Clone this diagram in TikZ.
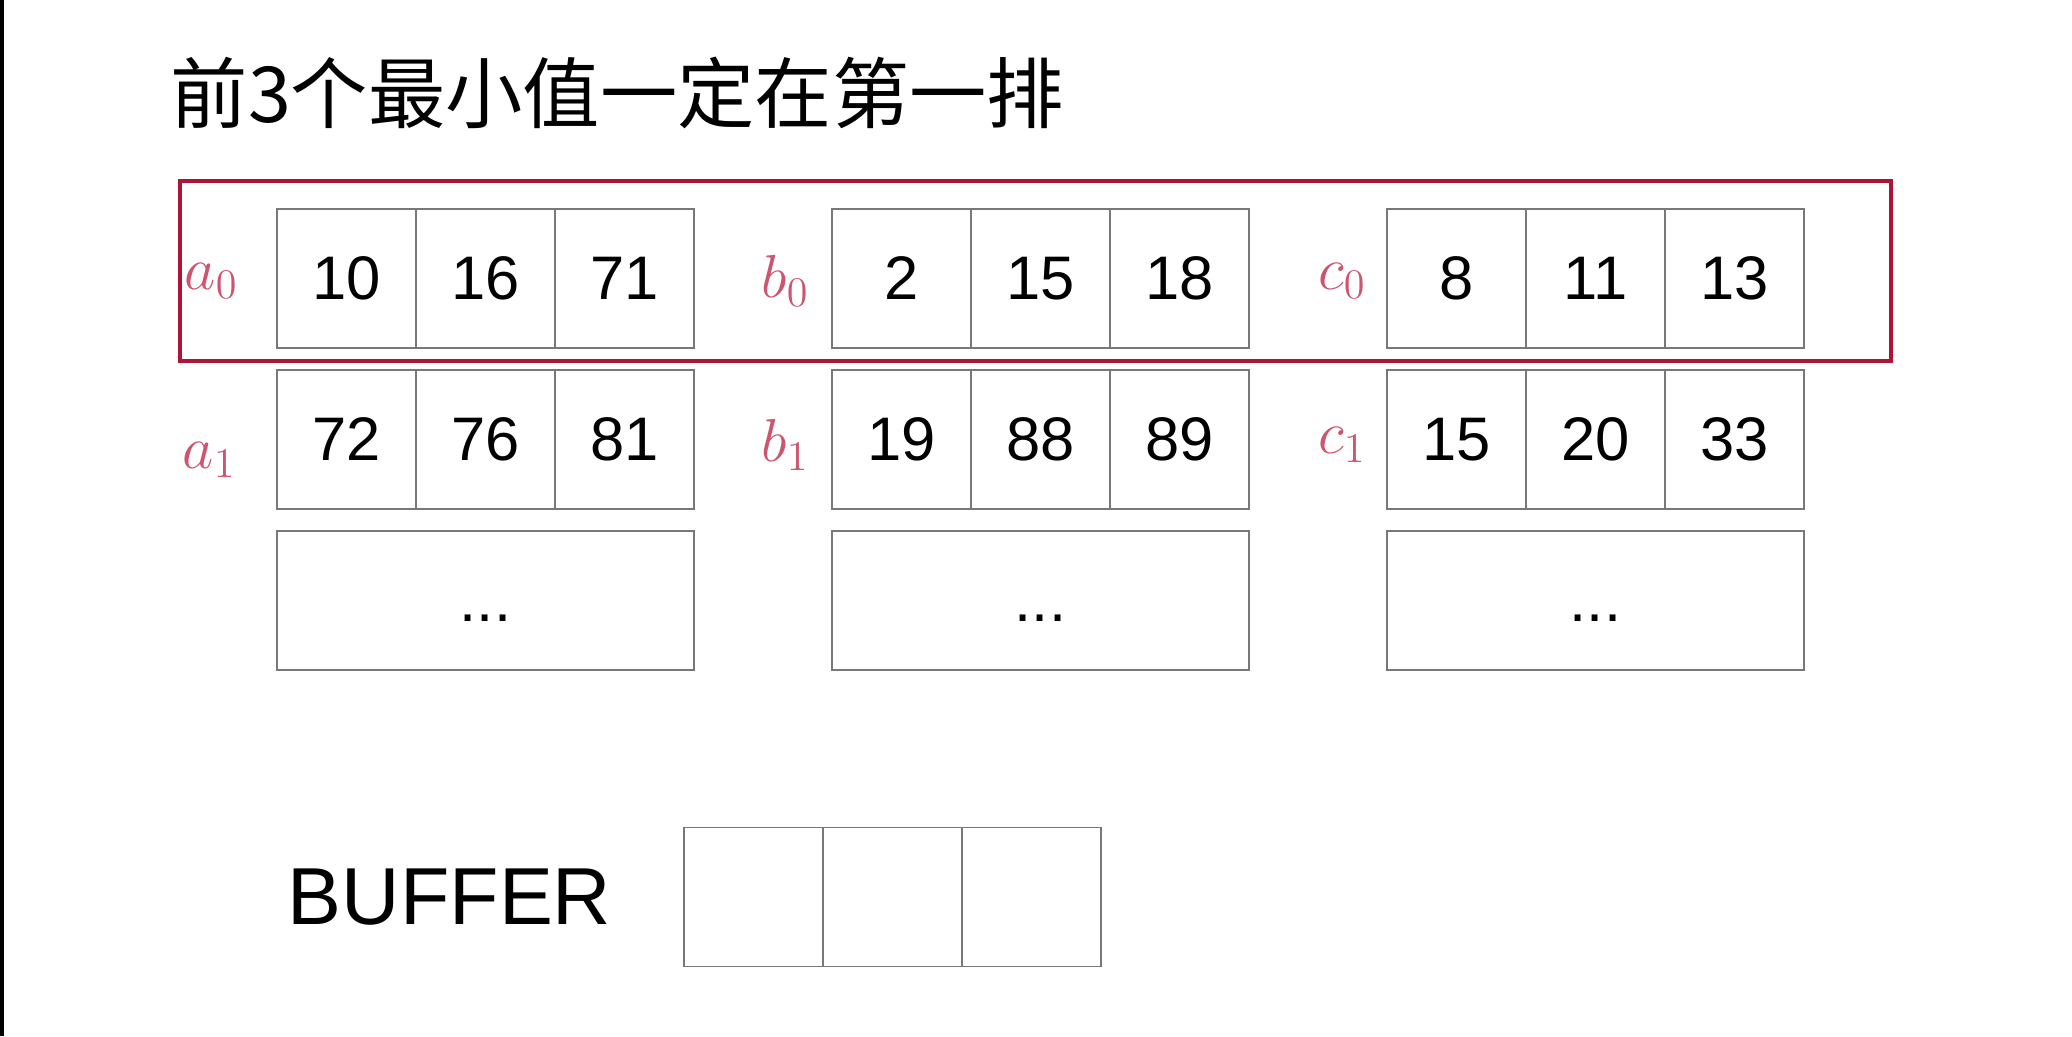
\documentclass[tikz,border=0pt]{standalone}
\usepackage{fontspec}
\setmainfont{Liberation Sans}
\newfontfamily\cjk{Noto Sans CJK SC}
\usepackage{xcolor}
\usepackage{tikz}
\usetikzlibrary{positioning, fit}
\definecolor{framered}{RGB}{172,22,52}
\definecolor{tagpink}{RGB}{205,85,110}
\definecolor{cellgray}{RGB}{120,120,120}
\newcommand{\numfont}{\fontsize{17.5}{21}\selectfont}
\newcommand{\tagfont}{\fontsize{17}{20}\selectfont}
\newcommand{\buffont}{\fontsize{23}{27}\selectfont}
\newcommand{\headfont}{\cjk\fontsize{22}{26}\selectfont}

\begin{document}
\begin{tikzpicture}[
  node distance=0.22cm and 1.38cm,
  cell/.style={draw=cellgray, line width=0.45pt, minimum width=1.39cm, minimum height=1.39cm, inner sep=0pt, outer sep=0pt, font=\numfont},
  wide/.style={cell, minimum width=4.17cm},
  tag/.style={text=tagpink, inner sep=0pt, font=\tagfont},
  frame/.style={draw=framered, line width=1pt, inner sep=0pt},
]

% Page
\fill[white] (0,0) rectangle (20.72,-10.36);
\fill[black] (0,0) rectangle (0.04,-10.36);
\useasboundingbox (0,0) rectangle (20.72,-10.36);

% Title
\node[anchor=west, inner sep=0pt, font=\headfont] (title) at (1.70,-0.93) {前3个最小值一定在第一排};

% First row
\node[cell] (a0-1) at (3.465,-2.785) {10};
\node[cell, right=0pt of a0-1] (a0-2) {16};
\node[cell, right=0pt of a0-2] (a0-3) {71};
\node[cell, right=of a0-3] (b0-1) {2};
\node[cell, right=0pt of b0-1] (b0-2) {15};
\node[cell, right=0pt of b0-2] (b0-3) {18};
\node[cell, right=of b0-3] (c0-1) {8};
\node[cell, right=0pt of c0-1] (c0-2) {11};
\node[cell, right=0pt of c0-2] (c0-3) {13};

% Second row
\node[cell, below=of a0-1] (a1-1) {72};
\node[cell, right=0pt of a1-1] (a1-2) {76};
\node[cell, right=0pt of a1-2] (a1-3) {81};
\node[cell, below=of b0-1] (b1-1) {19};
\node[cell, right=0pt of b1-1] (b1-2) {88};
\node[cell, right=0pt of b1-2] (b1-3) {89};
\node[cell, below=of c0-1] (c1-1) {15};
\node[cell, right=0pt of c1-1] (c1-2) {20};
\node[cell, right=0pt of c1-2] (c1-3) {33};

% Remaining rows
\node[wide, below=of a1-2] (a2) {\vphantom{0}...};
\node[wide, below=of b1-2] (b2) {\vphantom{0}...};
\node[wide, below=of c1-2] (c2) {\vphantom{0}...};

% Handwritten tags
\node[tag, left=0.38cm of a0-1, yshift=-0.02cm] (ta0) {$a_0$};
\node[tag, left=0.22cm of b0-1, yshift=-0.02cm] (tb0) {$b_0$};
\node[tag, left=0.2cm of c0-1, yshift=-0.02cm] (tc0) {$c_0$};
\node[tag, left=0.4cm of a1-1, yshift=-0.2cm] (ta1) {$a_1$};
\node[tag, left=0.22cm of b1-1, yshift=-0.05cm] (tb1) {$b_1$};
\node[tag, left=0.2cm of c1-1, yshift=-0.05cm] (tc1) {$c_1$};

% Frame round the first row
\node[frame, fit={([xshift=-0.97cm,yshift=0.28cm]a0-1.north west) ([xshift=0.87cm,yshift=-0.13cm]c0-3.south east)}] (row0) {};

% Buffer
\node[cell] (buf-1) at (7.535,-8.97) {};
\node[cell, right=0pt of buf-1] (buf-2) {};
\node[cell, right=0pt of buf-2] (buf-3) {};
\node[left=0.72cm of buf-1, inner sep=0pt, font=\buffont] (buffer) {BUFFER};

\end{tikzpicture}
\end{document}
